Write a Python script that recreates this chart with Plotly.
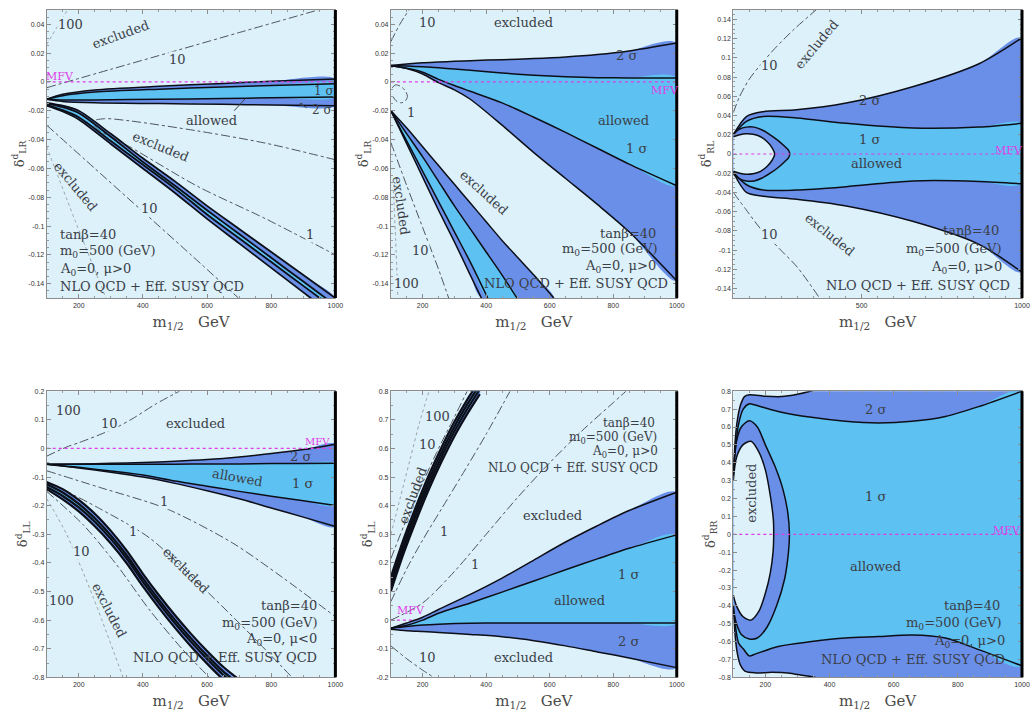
import plotly.graph_objects as go

# ---------------- colours / fonts ----------------
BG = "#dcf1fa"
SIG1 = "#5dc1f2"
SIG2 = "#6a8fe8"
EDGE = "#0d0f18"
CONT = "#50555c"
CONT_FAINT = "#9aa0a6"
MFV_COLOR = "#e03ce6"
TXT = "#3b4047"
SERIF = "DejaVu Serif"
SANS = "Liberation Sans"

# ---------------- axes data ----------------
X_RANGE = [100, 1000]
X_TICKS = [200, 400, 600, 800, 1000]
X_TICKS_P3 = [500, 1000]
MFV_Y = 0.0

Y_RANGE_P12 = [-0.15, 0.05]
Y_TICKS_P12 = [-0.14, -0.12, -0.10, -0.08, -0.06, -0.04, -0.02, 0, 0.02, 0.04]
Y_TEXT_P12 = ["-0.14", "-0.12", "-0.1", "-0.08", "-0.06", "-0.04", "-0.02", "0", "0.02", "0.04"]
Y_RANGE_P3 = [-0.15, 0.15]
Y_TICKS_P3 = [-0.14, -0.12, -0.10, -0.08, -0.06, -0.04, -0.02, 0, 0.02, 0.04, 0.06, 0.08, 0.10, 0.12, 0.14]
Y_TEXT_P3 = ["-0.14", "-0.12", "-0.1", "-0.08", "-0.06", "-0.04", "-0.02", "0", "0.02", "0.04",
             "0.06", "0.08", "0.1", "0.12", "0.14"]
Y_RANGE_P4 = [-0.8, 0.2]
Y_TICKS_P4 = [-0.8, -0.7, -0.6, -0.5, -0.4, -0.3, -0.2, -0.1, 0, 0.1, 0.2]
Y_TEXT_P4 = ["-0.8", "-0.7", "-0.6", "-0.5", "-0.4", "-0.3", "-0.2", "-0.1", "0", "0.1", "0.2"]
Y_RANGE_P5 = [-0.2, 0.8]
Y_TICKS_P5 = [-0.2, -0.1, 0, 0.1, 0.2, 0.3, 0.4, 0.5, 0.6, 0.7, 0.8]
Y_TEXT_P5 = ["-0.2", "-0.1", "0", "0.1", "0.2", "0.3", "0.4", "0.5", "0.6", "0.7", "0.8"]
Y_RANGE_P6 = [-0.8, 0.8]
Y_TICKS_P6 = [-0.8, -0.7, -0.6, -0.5, -0.4, -0.3, -0.2, -0.1, 0, 0.1, 0.2, 0.3, 0.4, 0.5, 0.6, 0.7, 0.8]
Y_TEXT_P6 = ["-0.8", "-0.7", "-0.6", "-0.5", "-0.4", "-0.3", "-0.2", "-0.1", "0", "0.1", "0.2", "0.3",
             "0.4", "0.5", "0.6", "0.7", "0.8"]
Y_TITLES = ["δ<sup>d</sup><sub>LR</sub>", "δ<sup>d</sup><sub>LR</sub>", "δ<sup>d</sup><sub>RL</sub>",
            "δ<sup>d</sup><sub>LL</sub>", "δ<sup>d</sup><sub>LL</sub>", "δ<sup>d</sup><sub>RR</sub>"]
X_TITLE = "m<sub>1/2</sub>\u00a0\u00a0\u00a0GeV"

# ---------------- panel 1 : delta_LR, mu>0 ----------------
P1_UB_X = [100, 150, 250, 450, 650, 800, 1000]
P1_UB_2UP = [-0.012, -0.0085, -0.0055, -0.003, -0.001, 0.0005, 0.002]
P1_UB_1UP = [-0.012, -0.0095, -0.007, -0.005, -0.0035, -0.0025, -0.0012]
P1_UB_1LO = [-0.012, -0.0125, -0.0125, -0.012, -0.0115, -0.011, -0.0105]
P1_UB_2LO = [-0.012, -0.0135, -0.0145, -0.015, -0.0155, -0.016, -0.0165]

P1_LB_X = [100, 150, 200, 300, 400, 500, 600, 700, 800, 900, 1000]
P1_LB_2UP = [-0.0145, -0.0165, -0.020, -0.036, -0.053, -0.069, -0.086, -0.102, -0.118, -0.134, -0.150]
P1_LB_1UP = [-0.015, -0.0175, -0.0215, -0.038, -0.0555, -0.072, -0.089, -0.1055, -0.122, -0.1385, -0.155]
P1_LB_1LO = [-0.016, -0.0195, -0.0245, -0.041, -0.0575, -0.074, -0.092, -0.1085, -0.125, -0.1415, -0.158]
P1_LB_2LO = [-0.0165, -0.0205, -0.026, -0.043, -0.060, -0.077, -0.095, -0.112, -0.129, -0.146, -0.163]

P1_C100A_X = [100, 132, 165]
P1_C100A_Y = [0.026, 0.038, 0.050]
P1_C10A_X = [100, 300, 500, 700, 947]
P1_C10A_Y = [-0.004, 0.0088, 0.0215, 0.0343, 0.050]
P1_C1_X = [1000, 783, 571, 359, 280, 242, 260, 359, 571, 783, 1000]
P1_C1_Y = [-0.054, -0.0425, -0.034, -0.027, -0.0255, -0.0275, -0.033, -0.045, -0.0725, -0.095, -0.120]
P1_C10B_X = [100, 250, 400, 550, 698]
P1_C10B_Y = [-0.030, -0.060, -0.090, -0.120, -0.150]
P1_C100B_X = [100, 190, 285]
P1_C100B_Y = [-0.045, -0.097, -0.150]

P1_NOTES = [("100", 175, 0.040, 0, "c"), ("excluded", 330, 0.033, -20, "t"), ("10", 507, 0.0155, 0, "c"),
            ("excluded", 454, -0.045, 22, "t"), ("1", 920, -0.106, 0, "c"),
            ("excluded", 190, -0.0725, 50, "t"), ("10", 422, -0.0875, 0, "c"),
            ("allowed", 613, -0.0265, 0, "t"), ("1 σ", 965, -0.0065, 0, "s"), ("2 σ", 958, -0.0195, 0, "s")]
P1_MFV_LABEL = (142, 0.0035)
P1_INFO = ["tanβ=40", "m<sub>0</sub>=500 (GeV)", "A<sub>0</sub>=0, μ&gt;0", "NLO QCD + Eff. SUSY QCD"]
P1_INFO_X = [136, 136, 136, 136]
P1_INFO_Y = [-0.106, -0.118, -0.130, -0.142]

# ---------------- panel 2 : delta_LR, mu>0 ----------------
P2_UB_X = [100, 150, 200, 250, 300, 350, 450, 550, 650, 750, 850, 1000]
P2_UB_2UP = [0.0115, 0.0125, 0.0133, 0.0138, 0.0143, 0.0148, 0.0155, 0.0162, 0.0173, 0.019, 0.0215, 0.027]
P2_UB_1UP = [0.0115, 0.011, 0.0105, 0.0098, 0.009, 0.0081, 0.0062, 0.0047, 0.0036, 0.003, 0.0028, 0.0028]
P2_UB_1LO = [0.0112, 0.0095, 0.0068, 0.0018, -0.0025, -0.0065, -0.0145, -0.0245, -0.035, -0.046, -0.057, -0.072]
P2_UB_2LO = [0.0112, 0.0093, 0.0055, -0.0005, -0.0055, -0.012, -0.030, -0.049, -0.067, -0.085, -0.104, -0.138]

P2_LB_B1_X = [100, 150, 200, 250, 300, 350, 385]
P2_LB_B1_Y = [-0.020, -0.043, -0.066, -0.089, -0.111, -0.134, -0.150]
P2_LB_B2_X = [100, 150, 200, 250, 300, 350, 405]
P2_LB_B2_Y = [-0.020, -0.041, -0.062, -0.083, -0.104, -0.125, -0.150]
P2_LB_B3_X = [100, 150, 200, 250, 300, 350, 400, 450, 497]
P2_LB_B3_Y = [-0.020, -0.036, -0.052, -0.069, -0.086, -0.102, -0.118, -0.134, -0.150]
P2_LB_B4_X = [100, 150, 200, 250, 300, 350, 400, 450, 500, 550, 613]
P2_LB_B4_Y = [-0.020, -0.032, -0.045, -0.058, -0.071, -0.084, -0.097, -0.110, -0.122, -0.134, -0.150]

P2_C10A_X = [100, 128, 157]
P2_C10A_Y = [0.028, 0.040, 0.050]
P2_C1_X = [104, 115, 130, 145, 152, 146, 132, 116, 106]
P2_C1_Y = [-0.004, -0.002, -0.003, -0.006, -0.010, -0.013, -0.0145, -0.013, -0.010]
P2_C10B_X = [100, 150, 200, 250, 282]
P2_C10B_Y = [-0.042, -0.072, -0.101, -0.130, -0.150]
P2_C100B_X = [108, 115, 122]
P2_C100B_Y = [-0.075, -0.110, -0.150]

P2_NOTES = [("10", 215, 0.041, 0, "c"), ("excluded", 518, 0.041, 0, "t"), ("2 σ", 843, 0.0186, 0, "t"),
            ("1", 163, -0.021, 0, "c"), ("allowed", 832, -0.027, 0, "t"), ("1 σ", 874, -0.0465, 0, "t"),
            ("excluded", 393, -0.077, 42, "t"), ("excluded", 131, -0.086, 82, "t"),
            ("10", 194, -0.117, 0, "c"), ("100", 150, -0.140, 0, "c")]
P2_MFV_LABEL = (963, -0.006)
P2_INFO = ["tanβ=40", "m<sub>0</sub>=500 (GeV)", "A<sub>0</sub>=0, μ&gt;0", "NLO QCD + Eff. SUSY QCD"]
P2_INFO_X = [942, 947, 940, 979]
P2_INFO_Y = [-0.105, -0.116, -0.128, -0.140]

# ---------------- panel 3 : delta_RL ----------------
P3_X = [100, 141, 193, 297, 452, 659, 866, 1000]
P3_2UP = [0.020, 0.039, 0.044, 0.046, 0.053, 0.070, 0.094, 0.121]
P3_1UP = [0.020, 0.034, 0.039, 0.0375, 0.032, 0.027, 0.028, 0.032]
P3_1LO = [-0.019, -0.032, -0.0375, -0.0375, -0.034, -0.028, -0.0285, -0.031]
P3_2LO = [-0.019, -0.040, -0.044, -0.047, -0.054, -0.070, -0.094, -0.123]
P3_CRES_X = [100, 120, 140, 165, 190, 215, 240, 260, 272, 276, 272, 260, 240, 215, 190, 165, 140, 120, 100]
P3_CRES_Y = [0.021, 0.026, 0.028, 0.028, 0.025, 0.020, 0.014, 0.008, 0.004, 0.0, -0.004, -0.008, -0.014,
             -0.020, -0.025, -0.028, -0.028, -0.026, -0.021]
P3_HOLE_X = [100, 120, 140, 162, 185, 205, 220, 229, 220, 205, 185, 162, 140, 120, 100]
P3_HOLE_Y = [0.018, 0.020, 0.021, 0.0205, 0.018, 0.013, 0.007, 0.0, -0.007, -0.013, -0.018, -0.0205,
             -0.021, -0.020, -0.018]
P3_C10A_X = [100, 120, 150, 183, 230, 290, 358]
P3_C10A_Y = [0.043, 0.060, 0.078, 0.092, 0.110, 0.130, 0.150]
P3_C10B_X = [100, 140, 183, 245, 300, 369]
P3_C10B_Y = [-0.040, -0.058, -0.077, -0.099, -0.118, -0.150]
P3_NOTES = [("10", 214, 0.092, 0, "c"), ("excluded", 359, 0.114, -50, "t"), ("2 σ", 524, 0.056, 0, "t"),
            ("1 σ", 524, 0.015, 0, "t"), ("allowed", 545, -0.010, 0, "t"), ("10", 214, -0.084, 0, "c"),
            ("excluded", 400, -0.084, 39, "t")]
P3_MFV_LABEL = (959, 0.004)
P3_INFO = ["tanβ=40", "m<sub>0</sub>=500 (GeV)", "A<sub>0</sub>=0, μ&gt;0", "NLO QCD + Eff. SUSY QCD"]
P3_INFO_X = [933, 943, 943, 969]
P3_INFO_Y = [-0.080, -0.099, -0.118, -0.137]

# ---------------- panel 4 : delta_LL, mu<0 ----------------
P4_UB_X = [100, 200, 300, 400, 500, 600, 700, 800, 900, 1000]
P4_UB_2UP = [-0.055, -0.054, -0.052, -0.049, -0.045, -0.039, -0.030, -0.018, -0.004, 0.015]
P4_UB_1UP = [-0.055, -0.055, -0.055, -0.055, -0.055, -0.054, -0.054, -0.053, -0.053, -0.052]
P4_UB_1LO = [-0.055, -0.066, -0.079, -0.093, -0.114, -0.132, -0.150, -0.167, -0.183, -0.199]
P4_UB_2LO = [-0.055, -0.068, -0.083, -0.100, -0.122, -0.148, -0.176, -0.208, -0.240, -0.273]

P4_LB_X = [100, 150, 200, 250, 300, 350, 400, 450, 500, 550, 600, 650, 700]
P4_LB_2UP = [-0.118, -0.142, -0.180, -0.228, -0.288, -0.358, -0.438, -0.513, -0.583, -0.648, -0.708, -0.763, -0.808]
P4_LB_1UP = [-0.125, -0.154, -0.194, -0.244, -0.304, -0.374, -0.454, -0.529, -0.599, -0.664, -0.724, -0.779, -0.824]
P4_LB_1LO = [-0.135, -0.166, -0.206, -0.256, -0.316, -0.386, -0.466, -0.541, -0.611, -0.676, -0.736, -0.791, -0.836]
P4_LB_2LO = [-0.142, -0.178, -0.220, -0.272, -0.332, -0.402, -0.482, -0.557, -0.627, -0.692, -0.752, -0.807, -0.852]

P4_C10A_X = [100, 162, 200, 265, 320, 369, 441, 514]
P4_C10A_Y = [-0.027, 0.005, 0.020, 0.048, 0.075, 0.105, 0.156, 0.200]
P4_C1A_X = [100, 265, 472, 679, 834, 1000]
P4_C1A_Y = [-0.078, -0.136, -0.210, -0.330, -0.450, -0.588]
P4_C1B_X = [100, 265, 421, 576, 731, 865]
P4_C1B_Y = [-0.115, -0.210, -0.313, -0.474, -0.645, -0.800]
P4_C10B_X = [100, 214, 317, 421, 524, 607]
P4_C10B_Y = [-0.150, -0.267, -0.405, -0.565, -0.703, -0.800]
P4_C100B_X = [100, 162, 245, 338]
P4_C100B_Y = [-0.175, -0.300, -0.520, -0.800]
P4_NOTES = [("100", 167, 0.134, 0, "c"), ("10", 296, 0.088, 0, "c"), ("excluded", 565, 0.088, 0, "t"),
            ("2 σ", 891, -0.027, 0, "t"), ("allowed", 695, -0.100, 10, "t"), ("1 σ", 896, -0.124, 0, "t"),
            ("1", 467, -0.187, 0, "c"), ("1", 369, -0.290, 0, "c"), ("10", 209, -0.359, 0, "c"),
            ("excluded", 534, -0.428, 45, "t"), ("excluded", 296, -0.565, 63, "t"), ("100", 146, -0.530, 0, "c")]
P4_MFV_LABEL = (943, 0.025)
P4_INFO = ["tanβ=40", "m<sub>0</sub>=500 (GeV)", "A<sub>0</sub>=0, μ&lt;0", "NLO QCD + Eff. SUSY QCD"]
P4_INFO_X = [948, 953, 948, 948]
P4_INFO_Y = [-0.548, -0.611, -0.668, -0.731]

# ---------------- panel 5 : delta_LL, mu>0 ----------------
P5_UB_X = [100, 150, 200, 250, 350, 450, 550, 650, 750, 850, 1000]
P5_UB_2UP = [-0.028, -0.010, 0.010, 0.037, 0.090, 0.147, 0.210, 0.273, 0.330, 0.383, 0.447]
P5_UB_1UP = [-0.028, -0.018, 0.000, 0.024, 0.060, 0.098, 0.137, 0.176, 0.214, 0.251, 0.298]
P5_UB_1LO = [-0.028, -0.022, -0.017, -0.014, -0.011, -0.010, -0.010, -0.010, -0.010, -0.010, -0.010]
P5_UB_2LO = [-0.032, -0.037, -0.040, -0.043, -0.050, -0.058, -0.072, -0.090, -0.111, -0.132, -0.166]

P5_LB_X = [100, 140, 180, 220, 260, 300, 340, 380]
P5_LB_2UP = [0.151, 0.283, 0.400, 0.508, 0.605, 0.693, 0.770, 0.840]
P5_LB_1UP = [0.134, 0.266, 0.383, 0.491, 0.588, 0.676, 0.753, 0.823]
P5_LB_1LO = [0.118, 0.250, 0.367, 0.475, 0.572, 0.660, 0.737, 0.807]
P5_LB_2LO = [0.101, 0.233, 0.350, 0.458, 0.555, 0.643, 0.720, 0.790]

P5_C100_X = [100, 130, 160, 190, 220]
P5_C100_Y = [0.300, 0.430, 0.560, 0.690, 0.800]
P5_C10_X = [100, 150, 200, 250, 300, 340]
P5_C10_Y = [0.215, 0.355, 0.480, 0.600, 0.710, 0.800]
P5_C1A_X = [100, 150, 200, 260, 320, 400, 475]
P5_C1A_Y = [0.065, 0.180, 0.280, 0.390, 0.500, 0.650, 0.800]
P5_C1B_X = [100, 200, 300, 400, 500, 600, 700, 800, 840]
P5_C1B_Y = [0.000, 0.060, 0.170, 0.300, 0.430, 0.550, 0.660, 0.760, 0.800]
P5_C10B_X = [100, 150, 200, 235]
P5_C10B_Y = [-0.090, -0.135, -0.175, -0.200]
P5_NOTES = [("100", 246, 0.710, 0, "c"), ("10", 215, 0.613, 0, "c"), ("excluded", 168, 0.436, -70, "t"),
            ("1", 266, 0.310, 0, "c"), ("1", 365, 0.195, 0, "c"), ("excluded", 610, 0.367, 0, "t"),
            ("1 σ", 848, 0.160, 0, "t"), ("allowed", 693, 0.069, 0, "t"), ("2 σ", 848, -0.074, 0, "t"),
            ("10", 214, -0.131, 0, "c"), ("excluded", 516, -0.131, 0, "t")]
P5_MFV_LABEL = (162, 0.035)
P5_INFO = ["tanβ=40", "m<sub>0</sub>=500 (GeV)", "A<sub>0</sub>=0, μ&gt;0", "NLO QCD + Eff. SUSY QCD"]
P5_INFO_X = [938, 943, 948, 948]
P5_INFO_Y = [0.688, 0.637, 0.586, 0.532]

# ---------------- panel 6 : delta_RR ----------------
P6_SIG_X = [100, 108, 117, 131, 150, 168, 240, 344, 449, 553, 657, 761, 865, 1000]
P6_1UP = [0.33, 0.50, 0.62, 0.70, 0.73, 0.723, 0.687, 0.654, 0.632, 0.623, 0.632, 0.659, 0.714, 0.800]
P6_1LO = [-0.40, -0.53, -0.61, -0.64, -0.68, -0.67, -0.627, -0.600, -0.580, -0.572, -0.563, -0.580, -0.645, -0.736]
P6_2UP_X = [100, 105, 112, 122, 135, 150, 200, 250, 300, 340, 380, 1000]
P6_2UP = [0.33, 0.50, 0.63, 0.72, 0.77, 0.78, 0.772, 0.770, 0.783, 0.800, 0.820, 0.850]
P6_2LO_X = [100, 105, 112, 122, 136, 170, 220, 270, 320, 355, 390, 1000]
P6_2LO = [-0.40, -0.55, -0.66, -0.73, -0.765, -0.775, -0.772, -0.775, -0.790, -0.800, -0.820, -0.850]
P6_CRES_X = [100, 110, 125, 150, 175, 200, 230, 255, 270, 275, 272, 260, 235, 205, 175, 150, 125, 110, 100]
P6_CRES_Y = [0.36, 0.52, 0.60, 0.635, 0.60, 0.50, 0.38, 0.25, 0.12, 0.0, -0.10, -0.25, -0.40, -0.52,
             -0.58, -0.585, -0.56, -0.50, -0.42]
P6_HOLE_X = [100, 110, 130, 155, 180, 200, 215, 225, 226, 224, 215, 200, 180, 155, 130, 110, 100]
P6_HOLE_Y = [0.30, 0.43, 0.50, 0.52, 0.46, 0.36, 0.22, 0.08, 0.0, -0.10, -0.22, -0.33, -0.43, -0.48,
             -0.46, -0.40, -0.34]
P6_NOTES = [("2 σ", 543, 0.696, 0, "t"), ("excluded", 157, 0.230, -90, "t"), ("1 σ", 543, 0.210, 0, "t"),
            ("allowed", 543, -0.180, 0, "t")]
P6_MFV_LABEL = (953, 0.020)
P6_INFO = ["tanβ=40", "m<sub>0</sub>=500 (GeV)", "A<sub>0</sub>=0, μ&gt;0", "NLO QCD + Eff. SUSY QCD"]
P6_INFO_X = [938, 943, 953, 953]
P6_INFO_Y = [-0.40, -0.50, -0.60, -0.70]

# ---------------- layout positions ----------------
DOMX = [[0.0455, 0.3269], [0.3810, 0.6596], [0.7147, 0.9961]]
DOMY = [[0.5875, 0.9917], [0.0556, 0.4569]]

fig = go.Figure()


def sid(n):
    return "" if n == 1 else str(n)


def refs(n):
    return dict(xaxis="x" + sid(n), yaxis="y" + sid(n))


def fill(n, xs, ys, color):
    fig.add_trace(go.Scatter(x=list(xs), y=list(ys), mode="lines", fill="toself", fillcolor=color,
                             line=dict(width=0, shape="spline", smoothing=0.8), hoverinfo="skip",
                             showlegend=False, **refs(n)))


def poly(xa, ya, xb, yb):
    return list(xa) + list(xb)[::-1], list(ya) + list(yb)[::-1]


def line(n, xs, ys, color=EDGE, width=1.5, dash="solid"):
    fig.add_trace(go.Scatter(x=list(xs), y=list(ys), mode="lines",
                             line=dict(color=color, width=width, dash=dash, shape="spline", smoothing=0.8),
                             hoverinfo="skip", showlegend=False, **refs(n)))


def contour(n, xs, ys, faint=False):
    if faint:
        line(n, xs, ys, color=CONT_FAINT, width=1, dash="dot")
    else:
        line(n, xs, ys, color=CONT, width=1, dash="dashdot")


def band(n, xu2, yu2, xu1, yu1, xl1, yl1, xl2, yl2, edges, width=1.5):
    px, py = poly(xu2, yu2, xl2, yl2)
    fill(n, px, py, SIG2)
    px, py = poly(xu1, yu1, xl1, yl1)
    fill(n, px, py, SIG1)
    edges.extend([(xu2, yu2, width), (xu1, yu1, width), (xl1, yl1, width), (xl2, yl2, width)])


def mfv(n, label):
    line(n, X_RANGE, [MFV_Y, MFV_Y], color=MFV_COLOR, width=1.2, dash="dot")
    fig.add_annotation(x=label[0], y=label[1], xref="x" + sid(n), yref="y" + sid(n), text="MFV",
                       showarrow=False, font=dict(family=SERIF, size=10 if n == 4 else 11, color=MFV_COLOR))


def notes(n, items):
    for text, x, y, ang, kind in items:
        size = 12 if kind == "s" else 13
        kw = dict(bgcolor=BG, borderpad=0) if kind == "c" else {}
        fig.add_annotation(x=x, y=y, xref="x" + sid(n), yref="y" + sid(n), text=text, showarrow=False,
                           textangle=ang, font=dict(family=SERIF, size=size, color=TXT), **kw)


def info(n, lines, xs, ys, anchor, size=13):
    for t, x, y in zip(lines, xs, ys):
        fig.add_annotation(x=x, y=y, xref="x" + sid(n), yref="y" + sid(n), text=t, showarrow=False,
                           xanchor=anchor, font=dict(family=SERIF, size=size, color=TXT))


def draw_edges(n, edges):
    for xs, ys, w in edges:
        line(n, xs, ys, width=w)


# ----- panel 1
e = []
band(1, P1_UB_X, P1_UB_2UP, P1_UB_X, P1_UB_1UP, P1_UB_X, P1_UB_1LO, P1_UB_X, P1_UB_2LO, e)
band(1, P1_LB_X, P1_LB_2UP, P1_LB_X, P1_LB_1UP, P1_LB_X, P1_LB_1LO, P1_LB_X, P1_LB_2LO, e, 1.8)
contour(1, P1_C100A_X, P1_C100A_Y, True)
contour(1, P1_C10A_X, P1_C10A_Y)
contour(1, P1_C1_X, P1_C1_Y)
contour(1, P1_C10B_X, P1_C10B_Y)
contour(1, P1_C100B_X, P1_C100B_Y, True)
draw_edges(1, e)
mfv(1, P1_MFV_LABEL)
notes(1, P1_NOTES)
info(1, P1_INFO, P1_INFO_X, P1_INFO_Y, "left")
fig.add_annotation(x=719, y=-0.0116, ax=680, ay=-0.021, xref="x", yref="y", axref="x", ayref="y",
                   text="", showarrow=True, arrowhead=0, arrowwidth=1, arrowcolor=TXT)
fig.add_annotation(x=888, y=-0.0150, ax=915, ay=-0.0185, xref="x", yref="y", axref="x", ayref="y",
                   text="", showarrow=True, arrowhead=1, arrowsize=0.8, arrowwidth=1, arrowcolor=TXT)

# ----- panel 2
e = []
band(2, P2_UB_X, P2_UB_2UP, P2_UB_X, P2_UB_1UP, P2_UB_X, P2_UB_1LO, P2_UB_X, P2_UB_2LO, e)
band(2, P2_LB_B4_X, P2_LB_B4_Y, P2_LB_B3_X, P2_LB_B3_Y, P2_LB_B2_X, P2_LB_B2_Y, P2_LB_B1_X, P2_LB_B1_Y, e)
contour(2, P2_C10A_X, P2_C10A_Y)
contour(2, P2_C1_X, P2_C1_Y)
contour(2, P2_C10B_X, P2_C10B_Y)
contour(2, P2_C100B_X, P2_C100B_Y, True)
draw_edges(2, e)
mfv(2, P2_MFV_LABEL)
notes(2, P2_NOTES)
info(2, P2_INFO, P2_INFO_X, P2_INFO_Y, "right")

# ----- panel 3
e = []
band(3, P3_X, P3_2UP, P3_X, P3_1UP, P3_X, P3_1LO, P3_X, P3_2LO, e)
fill(3, P3_CRES_X, P3_CRES_Y, SIG2)
fill(3, P3_HOLE_X, P3_HOLE_Y, BG)
e.extend([(P3_CRES_X, P3_CRES_Y, 1.5), (P3_HOLE_X, P3_HOLE_Y, 1.5)])
contour(3, P3_C10A_X, P3_C10A_Y)
contour(3, P3_C10B_X, P3_C10B_Y)
draw_edges(3, e)
mfv(3, P3_MFV_LABEL)
notes(3, P3_NOTES)
info(3, P3_INFO, P3_INFO_X, P3_INFO_Y, "right")

# ----- panel 4
e = []
band(4, P4_UB_X, P4_UB_2UP, P4_UB_X, P4_UB_1UP, P4_UB_X, P4_UB_1LO, P4_UB_X, P4_UB_2LO, e)
band(4, P4_LB_X, P4_LB_2UP, P4_LB_X, P4_LB_1UP, P4_LB_X, P4_LB_1LO, P4_LB_X, P4_LB_2LO, e, 2.2)
contour(4, P4_C10A_X, P4_C10A_Y)
contour(4, P4_C1A_X, P4_C1A_Y)
contour(4, P4_C1B_X, P4_C1B_Y)
contour(4, P4_C10B_X, P4_C10B_Y)
contour(4, P4_C100B_X, P4_C100B_Y, True)
draw_edges(4, e)
mfv(4, P4_MFV_LABEL)
notes(4, P4_NOTES)
info(4, P4_INFO, P4_INFO_X, P4_INFO_Y, "right")

# ----- panel 5 (MFV line drawn under the bands)
mfv(5, P5_MFV_LABEL)
e = []
band(5, P5_UB_X, P5_UB_2UP, P5_UB_X, P5_UB_1UP, P5_UB_X, P5_UB_1LO, P5_UB_X, P5_UB_2LO, e)
band(5, P5_LB_X, P5_LB_2UP, P5_LB_X, P5_LB_1UP, P5_LB_X, P5_LB_1LO, P5_LB_X, P5_LB_2LO, e, 2.2)
contour(5, P5_C100_X, P5_C100_Y, True)
contour(5, P5_C10_X, P5_C10_Y)
contour(5, P5_C1A_X, P5_C1A_Y)
contour(5, P5_C1B_X, P5_C1B_Y)
contour(5, P5_C10B_X, P5_C10B_Y)
draw_edges(5, e)
notes(5, P5_NOTES)
info(5, P5_INFO, P5_INFO_X, P5_INFO_Y, "right", size=12)

# ----- panel 6
e = []
px, py = poly(P6_2UP_X, P6_2UP, P6_2LO_X, P6_2LO)
fill(6, px, py, SIG2)
px, py = poly(P6_SIG_X, P6_1UP, P6_SIG_X, P6_1LO)
fill(6, px, py, SIG1)
fill(6, P6_CRES_X, P6_CRES_Y, SIG2)
fill(6, P6_HOLE_X, P6_HOLE_Y, BG)
e.extend([(P6_2UP_X, P6_2UP, 1.5), (P6_SIG_X, P6_1UP, 1.5), (P6_SIG_X, P6_1LO, 1.5),
          (P6_2LO_X, P6_2LO, 1.5), (P6_CRES_X, P6_CRES_Y, 1.5), (P6_HOLE_X, P6_HOLE_Y, 1.5)])
draw_edges(6, e)
mfv(6, P6_MFV_LABEL)
notes(6, P6_NOTES)
info(6, P6_INFO, P6_INFO_X, P6_INFO_Y, "right")

# ---------------- axes ----------------
Y_CFG = [(Y_RANGE_P12, Y_TICKS_P12, Y_TEXT_P12, 0.005), (Y_RANGE_P12, Y_TICKS_P12, Y_TEXT_P12, 0.005),
         (Y_RANGE_P3, Y_TICKS_P3, Y_TEXT_P3, 0.005), (Y_RANGE_P4, Y_TICKS_P4, Y_TEXT_P4, 0.05),
         (Y_RANGE_P5, Y_TICKS_P5, Y_TEXT_P5, 0.05), (Y_RANGE_P6, Y_TICKS_P6, Y_TEXT_P6, 0.05)]

common = dict(showline=True, linecolor="#8c8c8c", linewidth=1, mirror="ticks", ticks="inside", ticklen=4,
              tickwidth=1, tickcolor="#8c8c8c", showgrid=False, zeroline=False,
              tickfont=dict(family=SANS, size=7, color="#333333"))

for n in range(1, 7):
    col, row = (n - 1) % 3, (n - 1) // 3
    xt = X_TICKS_P3 if n == 3 else X_TICKS
    yr, yt, ytt, ymin = Y_CFG[n - 1]
    fig.layout["xaxis" + sid(n)] = dict(
        domain=DOMX[col], anchor="y" + sid(n), range=X_RANGE, tickvals=xt, ticktext=[str(v) for v in xt],
        minor=dict(ticks="inside", ticklen=2, tickcolor="#9a9a9a", dtick=50, tick0=100, showgrid=False),
        title=dict(text=X_TITLE, font=dict(family=SERIF, size=15, color="#4a4a4a"), standoff=8), **common)
    fig.layout["yaxis" + sid(n)] = dict(
        domain=DOMY[row], anchor="x" + sid(n), range=yr, tickvals=yt, ticktext=ytt,
        minor=dict(ticks="inside", ticklen=2, tickcolor="#9a9a9a", dtick=ymin, tick0=0, showgrid=False),
        title=dict(text=Y_TITLES[n - 1], font=dict(family=SERIF, size=13, color="#4a4a4a"), standoff=0),
        **common)
    fig.add_shape(type="line", xref="x" + sid(n) + " domain", yref="y" + sid(n) + " domain",
                  x0=1, x1=1, y0=0, y1=1, line=dict(color="#000000", width=3))

fig.update_layout(width=1034, height=720, margin=dict(l=0, r=0, t=0, b=0), paper_bgcolor="white",
                  plot_bgcolor=BG, showlegend=False)

fig.write_html("out.html")
